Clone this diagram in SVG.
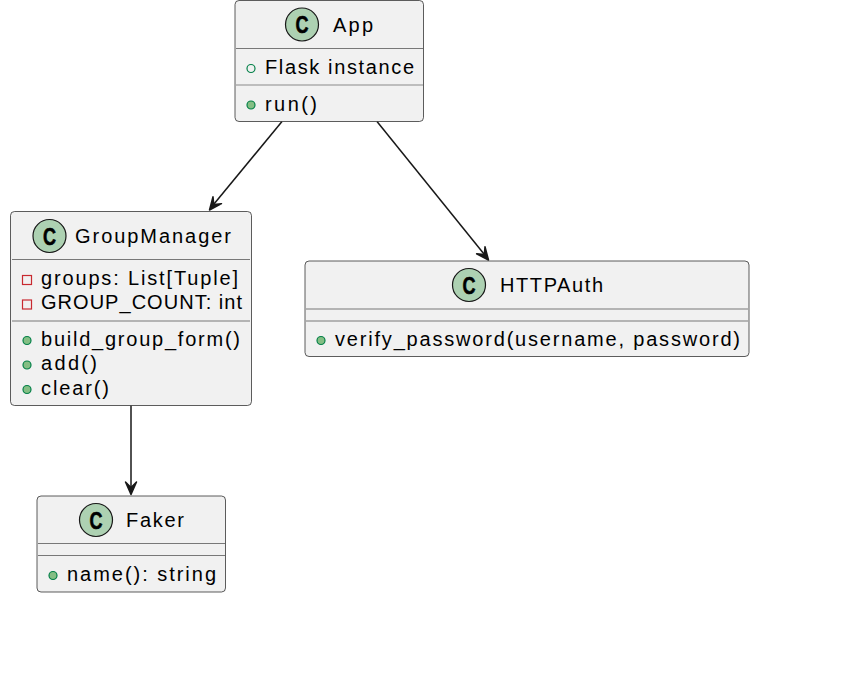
<svg xmlns="http://www.w3.org/2000/svg" width="854" height="677" viewBox="0 0 854 677">
<style>
.box{fill:#f1f1f1;stroke:#181818;stroke-width:.7}
.sep{stroke:#181818;stroke-width:.7;fill:none;opacity:.8}
.sep2{stroke:#8a8a8a;stroke-width:1.2;fill:none}
.circ{fill:#add1b2;stroke:#181818;stroke-width:1.2}
.cl{font:bold 24px "Liberation Sans",Arial,sans-serif;fill:#000;stroke:#000;stroke-width:.6;text-anchor:middle}
text.t{font-family:"Liberation Sans",Arial,sans-serif;font-size:20px;fill:#000}
.pub{fill:#84be84;stroke:#038048;stroke-width:1.2}
.pubo{fill:none;stroke:#038048;stroke-width:1.2}
.pri{fill:none;stroke:#c82930;stroke-width:1.2}
.edge{fill:none;stroke:#181818;stroke-width:1.5}
.head{fill:#181818;stroke:#181818;stroke-width:1.5;stroke-linejoin:round}
</style>
<g id="connectors">
<path class="edge" d="M282 121.500L214 204"/><path class="head" d="M209.500 210L221.500 203.700L213.800 204.500L213 196.800Z"/>
<path class="edge" d="M377 121.500L484 254"/><path class="head" d="M488.500 260L485 246.800L484.300 254.500L476.600 253.800Z"/>
<path class="edge" d="M131 405.500L131 489"/><path class="head" d="M131 494.500L136.500 482L131 487.500L125.500 482Z"/>
</g>
<g id="App">
<rect class="box" x="235" y="0.500" width="188.500" height="121" rx="4"/>
<circle class="circ" cx="302" cy="24.500" r="16.500"/><text class="cl" x="302" y="33" textLength="13" lengthAdjust="spacingAndGlyphs">C</text>
<text class="t" x="333" y="32" textLength="40">App</text>
<path class="sep" d="M236 48.500H423"/>
<circle class="pubo" cx="251" cy="68.500" r="4"/><text class="t" x="265" y="74" textLength="149">Flask instance</text>
<path class="sep2" d="M236 85H423"/>
<circle class="pub" cx="251" cy="105" r="4"/><text class="t" x="265" y="110.500" textLength="52">run()</text>
</g>
<g id="GroupManager">
<rect class="box" x="10.500" y="211.500" width="241" height="194" rx="4"/>
<circle class="circ" cx="49.500" cy="236" r="16.500"/><text class="cl" x="49.500" y="244.500" textLength="13" lengthAdjust="spacingAndGlyphs">C</text>
<text class="t" x="75" y="243" textLength="156">GroupManager</text>
<path class="sep" d="M12 259.500H250"/>
<rect class="pri" x="22.500" y="275.500" width="9" height="9"/><text class="t" x="41" y="285" textLength="197">groups: List[Tuple]</text>
<rect class="pri" x="22.500" y="300" width="9" height="9"/><text class="t" x="41" y="309" textLength="201">GROUP_COUNT: int</text>
<path class="sep" d="M12 321H250"/>
<circle class="pub" cx="27" cy="340.500" r="4"/><text class="t" x="41" y="346" textLength="199">build_group_form()</text>
<circle class="pub" cx="27" cy="365" r="4"/><text class="t" x="41" y="370" textLength="56">add()</text>
<circle class="pub" cx="27" cy="389.500" r="4"/><text class="t" x="41" y="395" textLength="68">clear()</text>
</g>
<g id="HTTPAuth">
<rect class="box" x="305" y="261" width="444" height="95.500" rx="4"/>
<circle class="circ" cx="469" cy="285" r="16.500"/><text class="cl" x="469" y="293.500" textLength="13" lengthAdjust="spacingAndGlyphs">C</text>
<text class="t" x="500" y="292" textLength="103">HTTPAuth</text>
<path class="sep" d="M306 309H748"/><path class="sep" d="M306 321H748"/>
<circle class="pub" cx="321" cy="340.500" r="4"/><text class="t" x="335" y="346" textLength="405">verify_password(username, password)</text>
</g>
<g id="Faker">
<rect class="box" x="37" y="496" width="188.500" height="96" rx="4"/>
<circle class="circ" cx="96" cy="520" r="16.500"/><text class="cl" x="96" y="528.500" textLength="13" lengthAdjust="spacingAndGlyphs">C</text>
<text class="t" x="126" y="527" textLength="58">Faker</text>
<path class="sep" d="M38 543.500H225"/><path class="sep" d="M38 555.500H225"/>
<circle class="pub" cx="53" cy="575.500" r="4"/><text class="t" x="67" y="581" textLength="149">name(): string</text>
</g>
</svg>
